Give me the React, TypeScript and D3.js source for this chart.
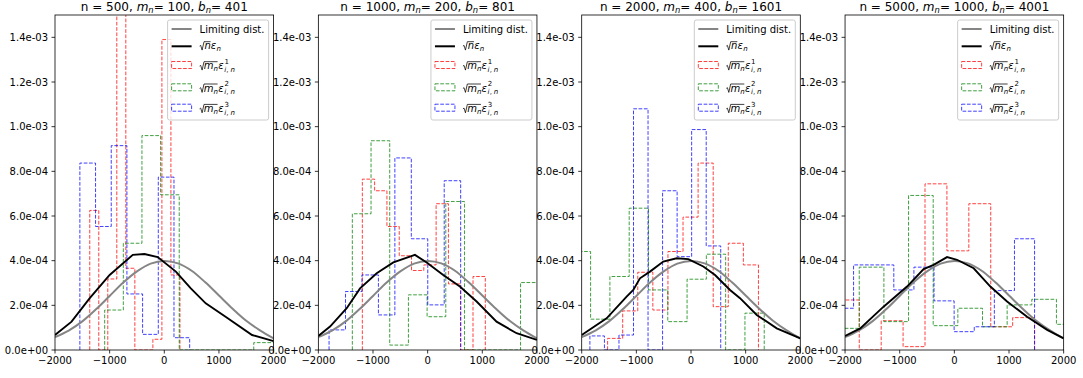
import React from "react";
import * as d3 from "d3";

// ---------------- data ----------------
const xTicks = [-2000, -1000, 0, 1000, 2000];
const xTickLabels = ["\u22122000", "\u22121000", "0", "1000", "2000"];
// y values are in units of 1e-4
const yTicks = [0, 2, 4, 6, 8, 10, 12, 14];
const yTickLabels = ["0.0e+00", "2.0e-04", "4.0e-04", "6.0e-04", "8.0e-04", "1.0e-03", "1.2e-03", "1.4e-03"];

const titleN = [500, 1000, 2000, 5000];
const titleM = [100, 200, 400, 1000];
const titleB = [401, 801, 1601, 4001];

const limitX = [-2000, -1750, -1500, -1250, -1000, -750, -500, -250, 0, 250, 500, 750, 1000, 1250, 1500, 1750, 2000];
const limitY = [0.58, 0.87, 1.28, 1.82, 2.42, 3.02, 3.52, 3.87, 3.99, 3.88, 3.55, 3.03, 2.44, 1.85, 1.31, 0.88, 0.52];

const p1BlackX = [-2000, -1697, -1364, -1000, -576, -364, -121, 212, 485, 758, 1121, 1606, 2000];
const p1BlackY = [0.67, 1.27, 2.32, 3.36, 4.26, 4.3, 4.16, 3.51, 2.76, 2.09, 1.49, 0.67, 0.4];
const p1RedEdges = [-1364, -1199, -1034, -869, -704, -539, -374, -209, -44, 121, 286];
const p1RedVals = [6.25, 0, 3.18, 16.5, 3.66, 0, 0, 0.48, 13.9, 3.36];
const p1GreenEdges = [-1091, -750, -409, -68, 273, 614, 955, 1296, 1637, 1978, 2319];
const p1GreenVals = [1.79, 4.78, 9.6, 6.95, 0, 0, 0, 0, 0.33, 0.33];
const p1BlueEdges = [-1545, -1258, -971, -684, -397, -110, 177, 464];
const p1BlueVals = [8.37, 5.53, 9.15, 2.51, 0.7, 7.74, 0.55];

const p2BlackX = [-2000, -1786, -1481, -1237, -932, -628, -232, -18, 285, 590, 896, 1261, 1627, 2000];
const p2BlackY = [0.63, 1.05, 1.87, 2.76, 3.44, 3.92, 4.26, 3.92, 3.36, 2.84, 2.17, 1.27, 0.75, 0.45];
const p2RedEdges = [-1195, -970, -745, -520, -295, -70, 155, 380, 605, 830, 1055];
const p2RedVals = [7.65, 7.13, 5.53, 4.22, 3.56, 3.81, 6.55, 2.96, 0, 3.29];
const p2GreenEdges = [-1378, -1036, -694, -352, -10, 332, 674, 1016, 1358, 1700, 2042];
const p2GreenVals = [6.1, 9.37, 0.22, 2.47, 1.49, 6.65, 0, 0, 0, 3.02];
const p2BlueEdges = [-1804, -1503, -1202, -901, -600, -299, 2, 303, 604];
const p2BlueVals = [0.9, 2.62, 3.36, 1.57, 8.6, 4.98, 2.02, 7.58];

const p3BlackX = [-2000, -1544, -1178, -1056, -934, -751, -507, -262, -49, 225, 440, 714, 897, 1203, 1569, 2000];
const p3BlackY = [0.67, 1.42, 2.39, 2.69, 3.21, 3.51, 3.96, 4.11, 4.07, 3.74, 3.36, 2.69, 2.32, 1.57, 0.97, 0.52];
const p3RedEdges = [-1526, -1250, -974, -698, -422, -146, 130, 406, 682, 958, 1234];
const p3RedVals = [0.52, 1.75, 3.48, 1.79, 4.41, 5.95, 8.37, 1.94, 4.78, 3.81];
const p3GreenEdges = [-2190, -1837, -1484, -1131, -778, -425, -72, 281, 634, 987, 1340];
const p3GreenVals = [4.41, 1.38, 3.29, 6.35, 2.69, 1.27, 3.17, 4.29, 0, 1.65];
const p3BlueEdges = [-1850, -1584, -1318, -1052, -786, -520, -254, 12, 278, 544];
const p3BlueVals = [0.63, 0, 0.67, 10.8, 0, 7.13, 4.18, 9.87, 4.66];

const p4BlackX = [-2000, -1722, -1295, -866, -562, -379, -134, 49, 354, 659, 965, 1331, 1698, 2000];
const p4BlackY = [0.63, 0.97, 1.94, 2.84, 3.62, 3.81, 4.16, 4.04, 3.66, 2.84, 2.17, 1.49, 0.9, 0.52];
const p4RedEdges = [-2141, -1740, -1339, -938, -537, -136, 265, 666, 1067, 1468];
const p4RedVals = [2.24, 0, 1.31, 0.15, 7.44, 4.44, 6.55, 1.04, 1.45];
const p4GreenEdges = [-2191, -1740, -1289, -838, -387, 64, 515, 966, 1417, 1868, 2319];
const p4GreenVals = [0.97, 3.71, 1.27, 6.92, 1.09, 1.87, 1.04, 2.02, 2.27, 1.15];
const p4BlueEdges = [-2212, -1844, -1476, -1108, -740, -372, -4, 364, 732, 1100, 1468];
const p4BlueVals = [1.87, 3.81, 3.81, 2.69, 3.71, 2.2, 0.82, 1.04, 2.66, 4.98];

const RED = "#ff0000";
const GREEN = "#008000";
const BLUE = "#0000ff";

const panels = [
  { bx: p1BlackX, by: p1BlackY, hists: [[p1RedEdges, p1RedVals, RED], [p1GreenEdges, p1GreenVals, GREEN], [p1BlueEdges, p1BlueVals, BLUE]] },
  { bx: p2BlackX, by: p2BlackY, hists: [[p2RedEdges, p2RedVals, RED], [p2GreenEdges, p2GreenVals, GREEN], [p2BlueEdges, p2BlueVals, BLUE]] },
  { bx: p3BlackX, by: p3BlackY, hists: [[p3RedEdges, p3RedVals, RED], [p3GreenEdges, p3GreenVals, GREEN], [p3BlueEdges, p3BlueVals, BLUE]] },
  { bx: p4BlackX, by: p4BlackY, hists: [[p4RedEdges, p4RedVals, RED], [p4GreenEdges, p4GreenVals, GREEN], [p4BlueEdges, p4BlueVals, BLUE]] },
];

// ---------------- layout ----------------
const W = 1083;
const H = 378;
const AX_LEFT0 = 55;
const AX_STEP = 263.35;
const AX_W = 218.6;
const AX_TOP = 15;
const AX_BOTTOM = 350;
const FONT = "'DejaVu Sans', 'Liberation Sans', sans-serif";
const DASH = "3.7,1.6";
const HIST_OPACITY = 0.75;
const GRAY = "#858585";

function Radical({ x, base, end }: { x: number; base: number; end: number }) {
  const top = base - 7.6;
  const d = `M${x},${base - 3.2} L${x + 1.1},${base - 3.9} L${x + 2.5},${base + 0.8} L${x + 4.4},${top} L${end},${top}`;
  return <path d={d} fill="none" stroke="#000" strokeWidth={0.75} />;
}

function Legend({ right, top }: { right: number; top: number }) {
  const bw = 101;
  const bh = 100;
  const bx = right - 5 - bw;
  const by = top + 5;
  const rows = [9, 26.3, 45, 67.3, 87.7];
  const hx0 = bx + 4;
  const hx1 = bx + 24;
  const tx = bx + 32;
  const histColors = [RED, GREEN, BLUE];
  const b2 = by + rows[1] + 3;
  return (
    <g>
      <rect x={bx} y={by} width={bw} height={bh} rx={2} ry={2} fill="#ffffff" fillOpacity={0.8} stroke="#cccccc" strokeWidth={1} />
      {/* row 1 */}
      <line x1={hx0} x2={hx1} y1={by + rows[0]} y2={by + rows[0]} stroke={GRAY} strokeWidth={2} />
      <text x={tx} y={by + rows[0] + 3.7} fontSize={10}>Limiting dist.</text>
      {/* row 2 */}
      <line x1={hx0} x2={hx1} y1={by + rows[1]} y2={by + rows[1]} stroke="#000" strokeWidth={2} />
      <Radical x={tx} base={b2} end={tx + 11} />
      <text fontSize={10} fontStyle="italic">
        <tspan x={tx + 4.8} y={b2}>n</tspan>
        <tspan x={tx + 11.2} y={b2}>ε</tspan>
        <tspan x={tx + 16.9} y={b2 + 2} fontSize={7}>n</tspan>
      </text>
      {histColors.map((c, k) => {
        const cy = by + rows[2 + k];
        const b = cy + 4.3;
        return (
          <g key={k}>
            <rect x={hx0} y={cy - 3.5} width={20} height={7} fill="none" stroke={c} strokeOpacity={HIST_OPACITY} strokeWidth={1} strokeDasharray={DASH} />
            <Radical x={tx} base={b} end={tx + 18} />
            <text fontSize={10} fontStyle="italic">
              <tspan x={tx + 4.2} y={b}>m</tspan>
              <tspan x={tx + 14} y={b + 2} fontSize={7}>n</tspan>
              <tspan x={tx + 18.6} y={b}>ε</tspan>
              <tspan x={tx + 24.8} y={b - 5.5} fontSize={7} fontStyle="normal">{`${k + 1}`}</tspan>
              <tspan x={tx + 24.6} y={b + 2.8} fontSize={7}>i</tspan>
              <tspan x={tx + 26.7} y={b + 2.8} fontSize={7} fontStyle="normal">,</tspan>
              <tspan x={tx + 30.8} y={b + 2.8} fontSize={7}>n</tspan>
            </text>
          </g>
        );
      })}
    </g>
  );
}

function Panel({ idx }: { idx: number }) {
  const p = panels[idx];
  const left = AX_LEFT0 + idx * AX_STEP;
  const right = left + AX_W;
  const x = d3.scaleLinear().domain([-2000, 2000]).range([left, right]);
  const y = d3.scaleLinear().domain([0, 15]).range([AX_BOTTOM, AX_TOP]);
  const line = d3
    .line<[number, number]>()
    .x((d) => x(d[0]))
    .y((d) => y(d[1]));
  const stepPath = (edges: number[], vals: number[]) => {
    const pts: [number, number][] = [[edges[0], 0]];
    vals.forEach((v, k) => {
      pts.push([edges[k], v]);
      pts.push([edges[k + 1], v]);
    });
    pts.push([edges[edges.length - 1], 0]);
    return line(pts) || "";
  };
  const limitPath =
    d3
      .line<[number, number]>()
      .x((d) => x(d[0]))
      .y((d) => y(d[1]))
      .curve(d3.curveCatmullRom)(limitX.map((v, k) => [v, limitY[k]] as [number, number])) || "";
  const blackPath = line(p.bx.map((v, k) => [v, p.by[k]] as [number, number])) || "";
  const clipId = `clip-${idx}`;
  const cx = (left + right) / 2;
  return (
    <g>
      <defs>
        <clipPath id={clipId}>
          <rect x={left} y={AX_TOP} width={AX_W} height={AX_BOTTOM - AX_TOP} />
        </clipPath>
      </defs>
      <text x={cx} y={10.5} textAnchor="middle" fontSize={12}>
        {`n = ${titleN[idx]}, `}
        <tspan fontStyle="italic">m</tspan>
        <tspan fontSize={8.4} dy={2.4} fontStyle="italic">n</tspan>
        <tspan dy={-2.4}>{`= ${titleM[idx]}, `}</tspan>
        <tspan fontStyle="italic">b</tspan>
        <tspan fontSize={8.4} dy={2.4} fontStyle="italic">n</tspan>
        <tspan dy={-2.4}>{`= ${titleB[idx]}`}</tspan>
      </text>
      <g clipPath={`url(#${clipId})`}>
        {p.hists.map((h, k) => (
          <path
            key={k}
            d={stepPath(h[0] as number[], h[1] as number[])}
            fill="none"
            stroke={h[2] as string}
            strokeOpacity={HIST_OPACITY}
            strokeWidth={1}
            strokeDasharray={DASH}
          />
        ))}
        <path d={limitPath} fill="none" stroke={GRAY} strokeWidth={2} />
        <path d={blackPath} fill="none" stroke="#000000" strokeWidth={1.9} />
      </g>
      {/* spines */}
      <rect x={left} y={AX_TOP} width={AX_W} height={AX_BOTTOM - AX_TOP} fill="none" stroke="#000" strokeWidth={0.8} />
      {/* x ticks */}
      {xTicks.map((t, k) => (
        <g key={k}>
          <line x1={x(t)} x2={x(t)} y1={AX_BOTTOM} y2={AX_BOTTOM + 3.5} stroke="#000" strokeWidth={0.8} />
          <text x={x(t)} y={AX_BOTTOM + 14.3} textAnchor="middle" fontSize={10}>{xTickLabels[k]}</text>
        </g>
      ))}
      {/* y ticks */}
      {yTicks.map((t, k) => (
        <g key={k}>
          <line x1={left - 3.5} x2={left} y1={y(t)} y2={y(t)} stroke="#000" strokeWidth={0.8} />
          <text x={left - 7} y={y(t) + 3.6} textAnchor="end" fontSize={10}>{yTickLabels[k]}</text>
        </g>
      ))}
      <Legend right={right} top={AX_TOP} />
    </g>
  );
}

export default function App() {
  return (
    <svg
      width={W}
      height={H}
      viewBox={`0 0 ${W} ${H}`}
      style={{ position: "absolute", left: 0, top: 0, background: "#ffffff" }}
      fontFamily={FONT}
    >
      <rect x={0} y={0} width={W} height={H} fill="#ffffff" />
      {panels.map((_, i) => (
        <Panel key={i} idx={i} />
      ))}
    </svg>
  );
}
